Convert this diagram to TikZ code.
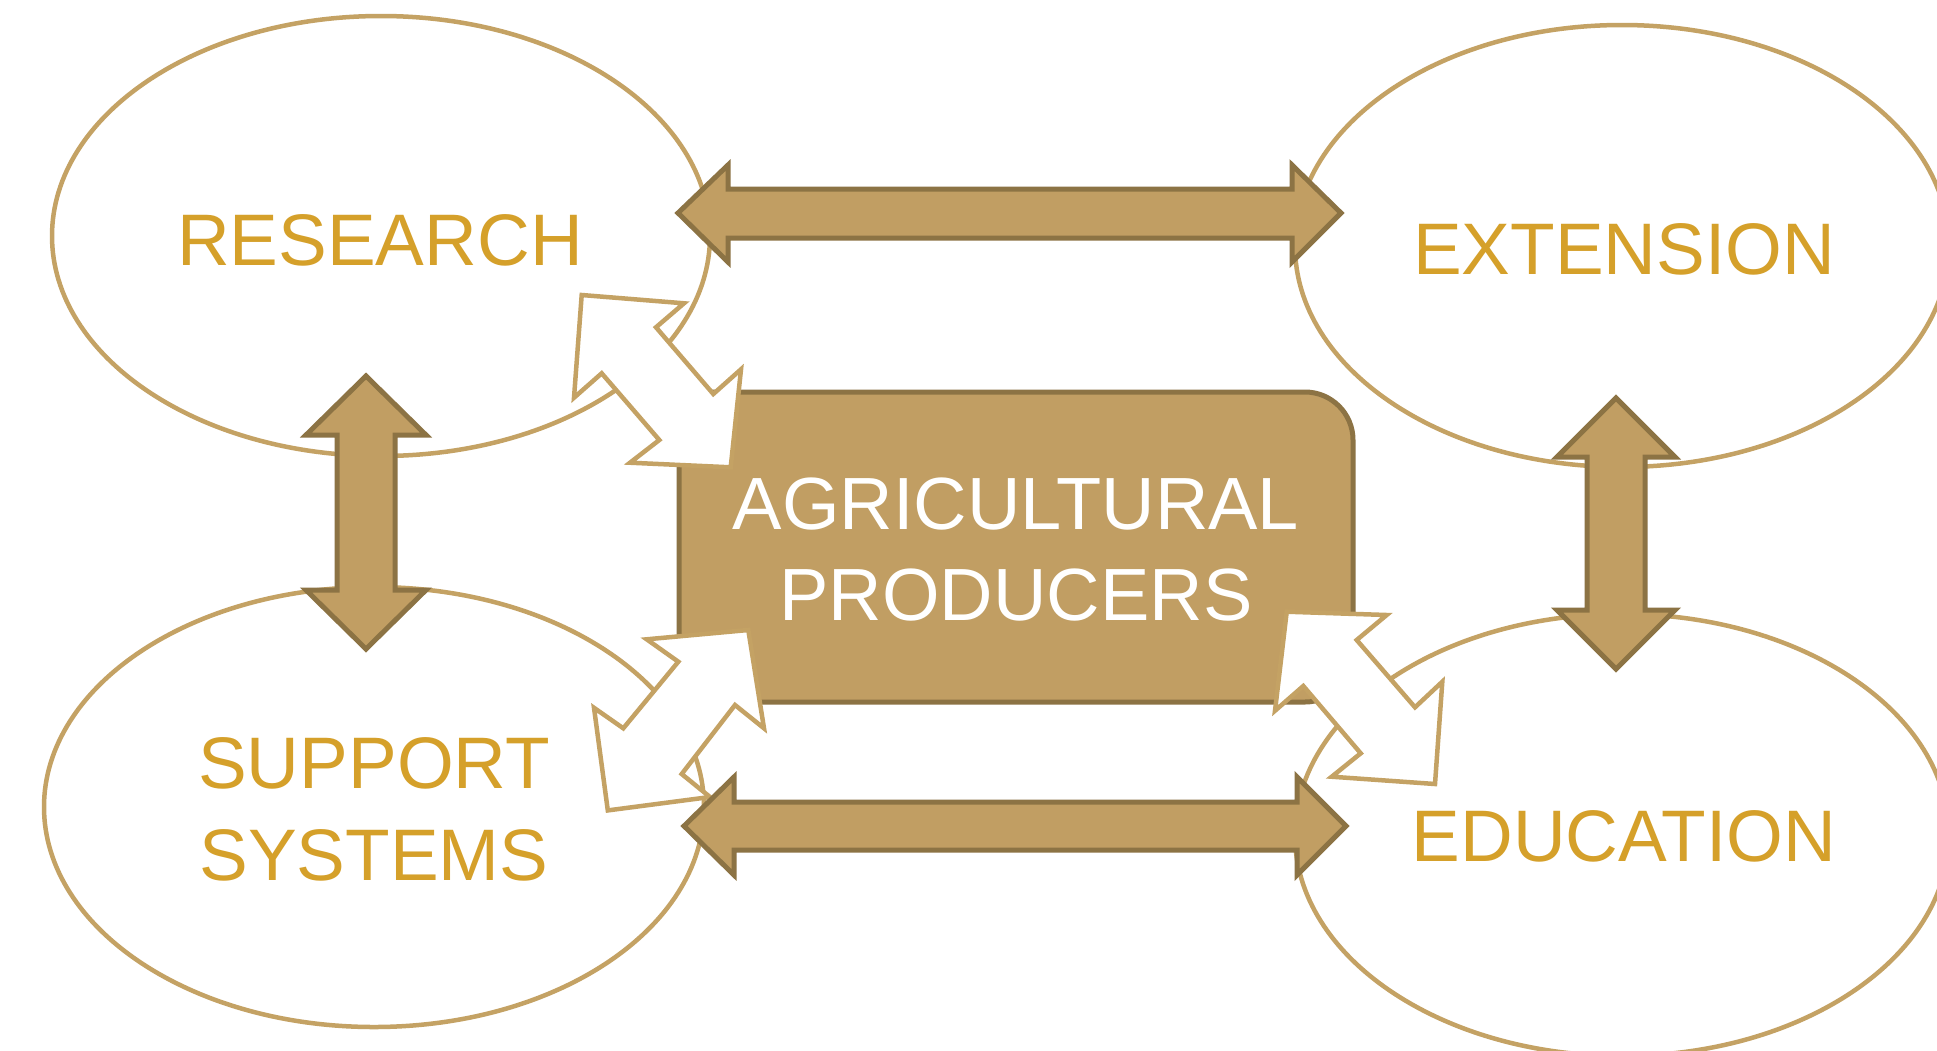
\documentclass[tikz,border=0pt]{standalone}
\usepackage{fontspec}
\setmainfont{Liberation Sans}
\usetikzlibrary{shapes.geometric}
\definecolor{tanfill}{HTML}{C19E63}
\definecolor{tandark}{HTML}{8C7344}
\definecolor{tanline}{HTML}{C4A264}
\definecolor{gold}{HTML}{D5A02A}
\begin{document}
\begin{tikzpicture}[x=1pt,y=-1pt,
 ell/.style={ellipse, draw=tanline, line width=4.5pt, fill=white, inner sep=0pt},
 bigarrow/.style={draw=tandark, fill=tanfill, line width=5pt, line join=miter},
 zig/.style={draw=tanline, fill=white, line width=4.5pt, line join=miter},
 lbl/.style={text=gold, font=\fontsize{73}{80}\selectfont, anchor=base, inner sep=0pt},
 ctr/.style={text=white, font=\fontsize{74}{80}\selectfont, anchor=base, inner sep=0pt}]
\clip (0,0) rectangle (1937,1050);
\fill[white] (0,0) rectangle (1937,1050);
% ellipses
\node[ell, minimum width=658pt, minimum height=440pt] (res) at (381,236) {};
\node[ell, minimum width=654pt, minimum height=442pt] (ext) at (1622,246) {};
\node[ell, minimum width=660pt, minimum height=440pt] (sup) at (374,807) {};
\node[ell, minimum width=654pt, minimum height=442pt] (edu) at (1622,835) {};
% central box
\draw[draw=tandark, fill=tanfill, line width=5pt]
  (679,702) -- (679,392) -- (1305,392)
  .. controls (1331.5,392) and (1353,413.5) .. (1353,440) -- (1353,654)
  .. controls (1353,680.5) and (1331.5,702) .. (1305,702) -- cycle;
\node[ctr] (agri) at (1016,529) {AGRICULTURAL};
\node[ctr] (prod) at (1016,620) {PRODUCERS};
% white zigzag double arrows
\draw[zig] (581.7,295) -- (684,303.3) -- (656,327.3) -- (713.3,394) -- (741,369.3)
  -- (730.7,467.3) -- (630,462.7) -- (659.3,440) -- (601.7,373.3) -- (574,397.7) -- cycle;
\draw[zig] (748.3,630) -- (764,728.3) -- (735,705) -- (681.7,774) -- (710,797)
  -- (607.8,810.4) -- (594,707.8) -- (623.3,728.3) -- (678.3,661.7) -- (646.7,639.3) -- cycle;
\draw[zig] (1286.7,611.7) -- (1386.7,615) -- (1356.7,640) -- (1415,707.3) -- (1442.3,681.7)
  -- (1435,784) -- (1331.7,776.7) -- (1360.7,753.3) -- (1303.3,686) -- (1275,710.7) -- cycle;
% tan double arrows
\draw[bigarrow] (678,213) -- (728,165) -- (728,189) -- (1292,189) -- (1292,165) -- (1341,213)
  -- (1292,262) -- (1292,238) -- (728,238) -- (728,262) -- cycle;
\draw[bigarrow] (684,826) -- (734,777) -- (734,802) -- (1297,802) -- (1297,777) -- (1346,826)
  -- (1297,875) -- (1297,850) -- (734,850) -- (734,875) -- cycle;
\draw[bigarrow] (366,376) -- (426,435) -- (395,435) -- (395,590) -- (426,590) -- (366,649)
  -- (306,590) -- (337,590) -- (337,435) -- (306,435) -- cycle;
\draw[bigarrow] (1616,398) -- (1675,457) -- (1645,457) -- (1645,610) -- (1675,610) -- (1616,669)
  -- (1557,610) -- (1587,610) -- (1587,457) -- (1557,457) -- cycle;
% labels
\node[lbl] (lres) at (380,265) {RESEARCH};
\node[lbl] (lext) at (1624,274) {EXTENSION};
\node[lbl] (lsup1) at (374,788) {SUPPORT};
\node[lbl] (lsup2) at (374,880) {SYSTEMS};
\node[lbl] (ledu) at (1624,861) {EDUCATION};
\end{tikzpicture}
\end{document}
